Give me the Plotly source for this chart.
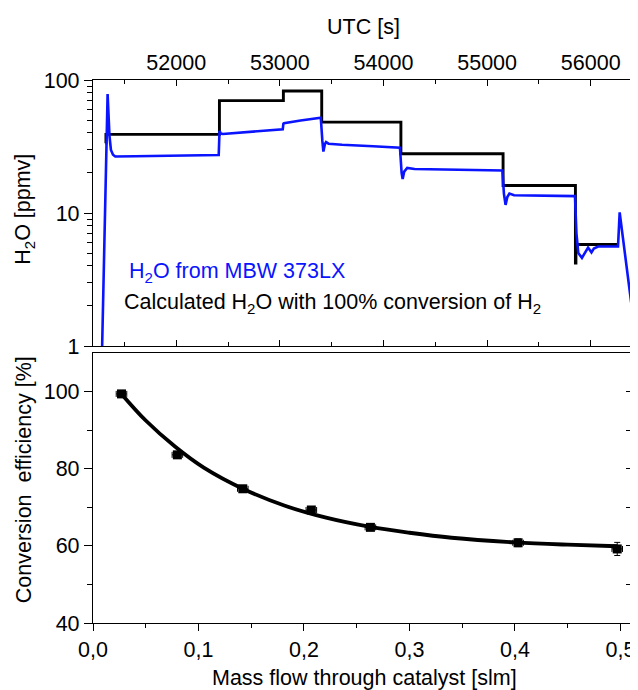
import plotly.graph_objects as go

# ---------------- data ----------------
# Top panel: calculated H2O (100 % conversion of H2), step series (UTC s, ppmv)
calc_utc = [51316, 51322, 52417, 53034, 53404, 54168, 55154, 55852, 55857, 56263]
calc_h2o = [33.5, 39.0, 70.0, 82.6, 48.2, 27.9, 16.1, 4.2, 5.8, 5.8]

# Top panel: measured H2O from MBW 373LX (UTC s, ppmv)
mbw_utc = [51284, 51338, 51356, 51370, 51390, 51412, 51600, 52000, 52410,
           52418, 52430, 52450, 52700, 53028,
           53034, 53040, 53200, 53381, 53395,
           53410, 53420, 53435, 53446, 53470, 53600, 53900, 54159,
           54175, 54185, 54200, 54229, 54300, 54700, 55148,
           55162, 55178, 55195, 55215, 55260, 55500, 55848,
           55862, 55880, 55915, 55945, 55974, 56007, 56030, 56070, 56263,
           56279, 56296, 56318, 56344, 56369, 56398]
mbw_h2o = [0.9, 78.5, 38.0, 29.8, 27.4, 26.6, 26.7, 27.0, 27.3,
           41.5, 39.6, 39.3, 40.8, 42.6,
           47.0, 47.4, 49.6, 51.6, 52.0,
           35.0, 29.0, 33.0, 34.1, 33.2, 32.6, 31.8, 31.0,
           20.0, 18.0, 20.5, 21.8, 21.4, 21.1, 20.9,
           14.0, 11.5, 13.2, 14.0, 13.6, 13.5, 13.4,
           7.0, 5.0, 4.6, 5.0, 5.5, 5.06, 5.4, 5.6, 5.6,
           10.1, 7.9, 5.6, 3.76, 2.66, 1.9]

# Bottom panel: conversion efficiency vs mass flow
flow = [0.027, 0.080, 0.142, 0.207, 0.263, 0.403, 0.497]
eff = [99.4, 83.6, 74.8, 69.3, 64.8, 60.8, 59.2]
flow_err = [0.005, 0.005, 0.005, 0.005, 0.005, 0.005, 0.005]
eff_err = [0.8, 0.8, 0.8, 0.8, 0.8, 1.0, 1.7]

# Bottom panel: exponential-decay fit curve
fit_flow = [0.027, 0.05, 0.078, 0.105, 0.143, 0.182, 0.221, 0.263, 0.30, 0.34, 0.40, 0.45, 0.497]
fit_eff = [99.4, 92.5, 85.7, 80.3, 74.7, 70.4, 67.3, 64.9, 63.4, 62.1, 60.9, 60.3, 59.9]

# Tick labels
utc_ticks = [52000, 53000, 54000, 55000, 56000]
utc_labels = ["52000", "53000", "54000", "55000", "56000"]
utc_minor = [51500, 52500, 53500, 54500, 55500]
h2o_ticks = [1, 10, 100]
h2o_labels = ["1", "10", "100"]
h2o_minor = [2, 3, 4, 5, 6, 7, 8, 9, 20, 30, 40, 50, 60, 70, 80, 90]
flow_ticks = [0.0, 0.1, 0.2, 0.3, 0.4, 0.5]
flow_labels = ["0,0", "0,1", "0,2", "0,3", "0,4", "0,5"]
flow_minor = [0.05, 0.15, 0.25, 0.35, 0.45]
eff_ticks = [40, 60, 80, 100]
eff_labels = ["40", "60", "80", "100"]
eff_minor = [50, 70, 90]

FONT = "Liberation Sans, Arial, sans-serif"
FS = 21.5
BLUE = "#0a14ff"

fig = go.Figure()

fig.add_trace(go.Scatter(x=calc_utc, y=calc_h2o, mode="lines", line=dict(color="black", width=2.9, shape="hv"),
                         xaxis="x", yaxis="y", showlegend=False, hoverinfo="skip"))
fig.add_trace(go.Scatter(x=mbw_utc, y=mbw_h2o, mode="lines", line=dict(color=BLUE, width=2.6),
                         xaxis="x", yaxis="y", showlegend=False, hoverinfo="skip"))

fig.add_trace(go.Scatter(x=fit_flow, y=fit_eff, mode="lines", line=dict(color="black", width=3.8, shape="spline"),
                         xaxis="x2", yaxis="y2", showlegend=False, hoverinfo="skip"))
fig.add_trace(go.Scatter(x=flow, y=eff, mode="markers",
                         marker=dict(symbol="square", size=9, color="black"),
                         error_x=dict(type="data", array=flow_err, color="black", thickness=1, width=3),
                         error_y=dict(type="data", array=eff_err, color="black", thickness=1, width=3),
                         xaxis="x2", yaxis="y2", showlegend=False, hoverinfo="skip"))
# helper trace for right-side inside ticks of bottom panel
fig.add_trace(go.Scatter(x=[None], y=[None], xaxis="x2", yaxis="y3", showlegend=False, hoverinfo="skip"))

axis_common = dict(showgrid=False, zeroline=False, showline=True, linecolor="black", linewidth=1.3,
                   automargin=False, tickcolor="black", tickwidth=1.3,
                   tickfont=dict(family=FONT, size=FS, color="black"))

# the page body has an 8 px margin, so the figure is 630x682 to fill the 638x690 window
fig.update_layout(
    width=630, height=682,
    margin=dict(l=85, r=5.7, t=72, b=67),
    paper_bgcolor="white", plot_bgcolor="white",
    font=dict(family=FONT, size=FS, color="black"),
    xaxis=dict(**axis_common, domain=[0, 1], anchor="y", side="top", range=[51197, 56398],
               tickmode="array", tickvals=utc_ticks, ticktext=utc_labels,
               ticks="inside", ticklen=6, mirror="ticks",
               minor=dict(tickmode="array", tickvals=utc_minor,
                          ticks="inside", ticklen=3.5, tickcolor="black", tickwidth=1.3)),
    yaxis=dict(**axis_common, domain=[0.5101, 1], anchor="x", type="log", range=[0, 2],
               tickmode="array", tickvals=h2o_ticks, ticktext=h2o_labels,
               ticks="outside", ticklen=8, mirror=True,
               minor=dict(tickmode="array", tickvals=h2o_minor, ticks="outside", ticklen=4.5,
                          tickcolor="black", tickwidth=1.3)),
    xaxis2=dict(**axis_common, domain=[0, 1], anchor="y2", range=[0, 0.511],
                tickmode="array", tickvals=flow_ticks, ticktext=flow_labels,
                ticks="outside", ticklen=7, mirror=True,
                minor=dict(tickmode="array", tickvals=flow_minor, ticks="outside", ticklen=4,
                           tickcolor="black", tickwidth=1.3)),
    yaxis2=dict(**axis_common, domain=[0, 0.4972], anchor="x2", range=[40, 110],
                tickmode="array", tickvals=eff_ticks, ticktext=eff_labels,
                ticks="outside", ticklen=8, mirror=True,
                minor=dict(tickmode="array", tickvals=eff_minor, ticks="outside", ticklen=4.5,
                           tickcolor="black", tickwidth=1.3)),
    yaxis3=dict(showgrid=False, zeroline=False, showline=False, overlaying="y2", anchor="x2", side="right",
                automargin=False, range=[40, 110], tickmode="array", tickvals=eff_ticks + eff_minor,
                ticks="inside", ticklen=6, tickcolor="black", tickwidth=1.3, showticklabels=False),
)

# axis titles
fig.add_annotation(x=0.501, y=1.0976, xref="paper", yref="paper", xanchor="center", yanchor="middle",
                   text="UTC [s]", showarrow=False, font=dict(family=FONT, size=FS, color="black"))
fig.add_annotation(x=-0.127, y=0.762, xref="paper", yref="paper", xanchor="center", yanchor="middle",
                   text="H<sub>2</sub>O [ppmv]", textangle=-90, showarrow=False,
                   font=dict(family=FONT, size=FS, color="black"))
fig.add_annotation(x=-0.128, y=0.263, xref="paper", yref="paper", xanchor="center", yanchor="middle",
                   text="Conversion  efficiency [%]", textangle=-90, showarrow=False,
                   font=dict(family=FONT, size=FS, color="black"))
fig.add_annotation(x=0.503, y=-0.1013, xref="paper", yref="paper", xanchor="center", yanchor="middle",
                   text="Mass flow through catalyst [slm]", showarrow=False,
                   font=dict(family=FONT, size=FS, color="black"))

# in-plot labels
fig.add_annotation(x=0.0625, y=0.6464, xref="paper", yref="paper", xanchor="left", yanchor="middle",
                   text="H<sub>2</sub>O from MBW 373LX", showarrow=False,
                   font=dict(family=FONT, size=FS, color=BLUE))
fig.add_annotation(x=0.0532, y=0.5875, xref="paper", yref="paper", xanchor="left", yanchor="middle",
                   text="Calculated H<sub>2</sub>O with 100% conversion of H<sub>2</sub>", showarrow=False,
                   font=dict(family=FONT, size=FS, color="black"))

fig.write_html("out.html")
